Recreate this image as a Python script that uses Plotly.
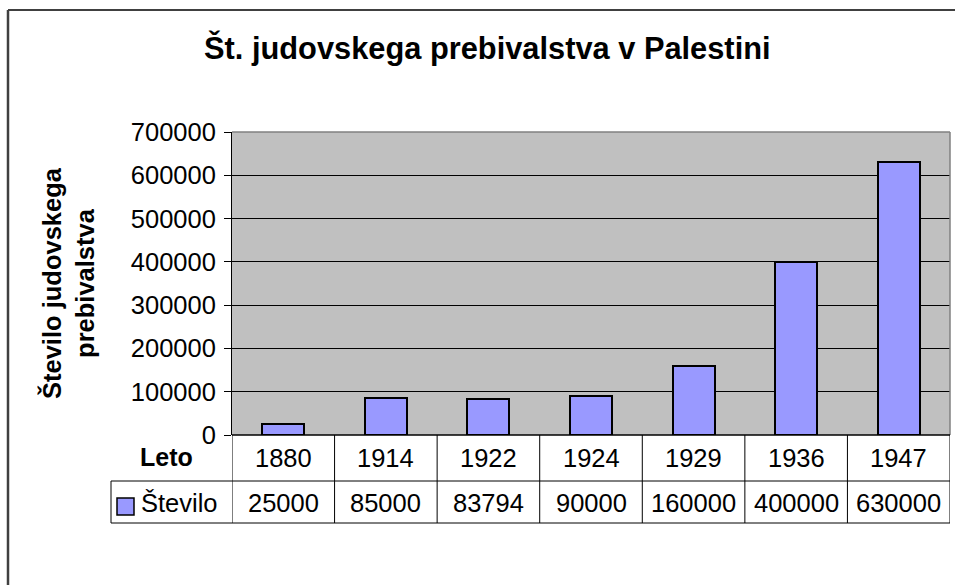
import plotly.graph_objects as go

years = ["1880", "1914", "1922", "1924", "1929", "1936", "1947"]
values = [25000, 85000, 83794, 90000, 160000, 400000, 630000]
title_text = "Št. judovskega prebivalstva v Palestini"
y_title = "Število judovskega<br>prebivalstva"
series_name = "Število"
x_label = "Leto"

W, H = 955, 585
FONT = "Liberation Sans, Arial, sans-serif"
BAR = "#9999FF"
NUM = 25.5

def px(x):
    return x / W

def py(y):
    return 1 - y / H

x0, x1 = 232, 950
y_top, y_bot = 132, 435
row2_top, row2_bot = 481, 523
legend_left = 111

fig = go.Figure()
fig.add_trace(go.Bar(
    x=list(range(len(years))), y=values, width=0.41,
    marker=dict(color=BAR, line=dict(color="black", width=2)),
    name=series_name, showlegend=False, hoverinfo="skip"))

fig.update_layout(
    width=W, height=H, margin=dict(l=0, r=0, t=0, b=0, pad=0, autoexpand=False),
    paper_bgcolor="white", plot_bgcolor="#C0C0C0",
    font=dict(family=FONT, color="black", size=NUM),
    xaxis=dict(domain=[px(x0), px(x1)], range=[-0.5, len(years) - 0.5],
               showticklabels=False, ticks="", showgrid=False, zeroline=False,
               showline=False, fixedrange=True, automargin=False),
    yaxis=dict(domain=[py(y_bot), py(y_top)], range=[0, 700000], dtick=100000,
               tickformat="d", ticks="outside", ticklen=7, tickcolor="black",
               showline=True, linecolor="black", linewidth=1,
               showgrid=True, gridcolor="black", gridwidth=1, zeroline=False,
               tickfont=dict(size=NUM, family=FONT), ticklabelstandoff=3,
               fixedrange=True, automargin=False),
    bargap=0,
)

shapes = []
shapes.append(dict(type="line", xref="x domain", yref="y domain", x0=0, x1=1, y0=1, y1=1,
                   line=dict(color="#808080", width=1.5)))
shapes.append(dict(type="line", xref="x domain", yref="y domain", x0=1, x1=1, y0=0, y1=1,
                   line=dict(color="#808080", width=1.5)))
shapes.append(dict(type="line", xref="paper", yref="paper", x0=px(x0), x1=px(x1),
                   y0=py(y_bot), y1=py(y_bot), line=dict(color="black", width=1.5)))
shapes.append(dict(type="line", xref="paper", yref="paper", x0=px(legend_left), x1=px(x1),
                   y0=py(row2_top), y1=py(row2_top), line=dict(color="black", width=1)))
shapes.append(dict(type="line", xref="paper", yref="paper", x0=px(legend_left), x1=px(x1),
                   y0=py(row2_bot), y1=py(row2_bot), line=dict(color="black", width=1)))
shapes.append(dict(type="line", xref="paper", yref="paper", x0=px(legend_left), x1=px(legend_left),
                   y0=py(row2_top), y1=py(row2_bot), line=dict(color="black", width=1)))
for i in range(len(years) + 1):
    shapes.append(dict(type="line", xref="x", yref="paper", x0=i - 0.5, x1=i - 0.5,
                       y0=py(y_bot), y1=py(row2_bot), line=dict(color="black", width=1)))
shapes.append(dict(type="rect", xref="paper", yref="paper", x0=px(117), x1=px(134),
                   y0=py(515), y1=py(498), fillcolor=BAR, line=dict(color="black", width=1.5)))
shapes.append(dict(type="line", xref="paper", yref="paper", x0=px(8), x1=1,
                   y0=py(10), y1=py(10), line=dict(color="black", width=1.5)))
shapes.append(dict(type="line", xref="paper", yref="paper", x0=px(8), x1=px(8),
                   y0=py(10), y1=0, line=dict(color="#404040", width=2.5)))
fig.update_layout(shapes=shapes)

ann = []
ann.append(dict(text="<b>" + title_text + "</b>", xref="paper", yref="paper",
                x=px(487), y=py(48), showarrow=False, font=dict(size=30.8, family=FONT),
                xanchor="center", yanchor="middle"))
ann.append(dict(text="<b>" + y_title + "</b>", xref="paper", yref="paper",
                x=px(68), y=py(283), showarrow=False, textangle=-90,
                font=dict(size=25.5, family=FONT), xanchor="center", yanchor="middle"))
ann.append(dict(text="<b>" + x_label + "</b>", xref="paper", yref="paper",
                x=px(166), y=py(457), showarrow=False, font=dict(size=25, family=FONT),
                xanchor="center", yanchor="middle"))
ann.append(dict(text=series_name, xref="paper", yref="paper",
                x=px(139), y=py(503), showarrow=False, font=dict(size=NUM, family=FONT),
                xanchor="left", yanchor="middle"))
for i, (yr, v) in enumerate(zip(years, values)):
    ann.append(dict(text=yr, xref="x", yref="paper", x=i, y=py(458), showarrow=False,
                    font=dict(size=NUM, family=FONT), xanchor="center", yanchor="middle"))
    ann.append(dict(text=str(v), xref="x", yref="paper", x=i, y=py(503), showarrow=False,
                    font=dict(size=NUM, family=FONT), xanchor="center", yanchor="middle"))
fig.update_layout(annotations=ann)

fig.write_html("out.html", config={"displayModeBar": False},
               post_script="document.body.style.margin='0';")
